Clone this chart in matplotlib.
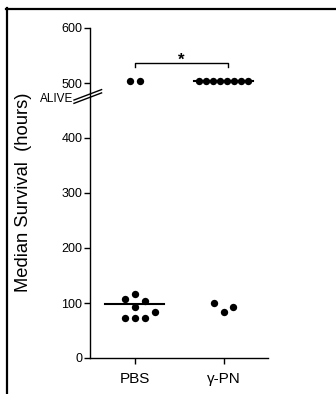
import matplotlib
matplotlib.use("Agg")
import matplotlib.pyplot as plt
import numpy as np
from matplotlib.lines import Line2D

plt.rcParams['font.family'] = ['Liberation Sans', 'DejaVu Sans']

# data (hours); survivors plotted at the "ALIVE" level
groups = ["PBS", "γ-PN"]
pbs_dead = [117, 107, 104, 92, 84, 72, 72, 72]
pn_dead = [100, 92, 84]
alive_value = 504
pbs_alive_n = 2
pn_alive_n = 8
y_ticks = [0, 100, 200, 300, 400, 500, 600]

W, H = 336, 394
fig = plt.figure(figsize=(W / 100, H / 100), dpi=100)
ax = fig.add_axes([90 / W, 1 - 358 / H, 178 / W, 330 / H])
ax.set_xlim(0.5, 2.5)
ax.set_ylim(0, 600)

# px per data unit, used for the dot swarm spacing
px_x = 89.0
px_y = 330 / 600


def swarm(values, gap=10):
    # simple greedy beeswarm, gap in pixels
    placed = []
    out = {}
    order = np.argsort(values, kind="stable")
    for i in order:
        v = values[i]
        k = 0
        while True:
            cands = [0] if k == 0 else [k, -k]
            ok = None
            for c in cands:
                xo = c * gap
                if all(np.hypot(xo - px, (v - pv) * px_y) >= gap - 0.01 for px, pv in placed):
                    ok = xo
                    break
            if ok is not None:
                placed.append((ok, v))
                out[i] = ok / px_x
                break
            k += 1
    return np.array([out[i] for i in range(len(values))])


def row(n, gap):
    return (np.arange(n) - (n - 1) / 2) * gap / px_x


dot = dict(s=28, color="black", zorder=3, linewidths=0)

# dead animals
ax.scatter(1 + swarm(pbs_dead), pbs_dead, **dot)
ax.scatter(2 + swarm(pn_dead), pn_dead, **dot)
# alive animals
ax.scatter(1 + row(pbs_alive_n, 10), [alive_value] * pbs_alive_n, **dot)
ax.scatter(2 + row(pn_alive_n, 7.1), [alive_value] * pn_alive_n, **dot)

# medians
all_pbs = pbs_dead + [alive_value] * pbs_alive_n
all_pn = pn_dead + [alive_value] * pn_alive_n
for xi, vals in zip([1, 2], [all_pbs, all_pn]):
    ax.plot([xi - 0.33, xi + 0.33], [np.median(vals)] * 2, color="black", lw=1.5, zorder=2)

# significance bracket
ax.plot([1.0, 1.0, 2.05, 2.05], [529, 536, 536, 529], color="black", lw=1, clip_on=False)
ax.text(1.52, 527, "*", ha="center", va="bottom", fontsize=12, fontweight="bold")

# axes style
for s in ["top", "right"]:
    ax.spines[s].set_visible(False)
for s in ["left", "bottom"]:
    ax.spines[s].set_linewidth(1.0)
ax.set_yticks(y_ticks)
ax.set_xticks([1, 2])
ax.set_xticklabels(groups, fontsize=11)
ax.tick_params(axis="y", labelsize=9, length=4, width=1, pad=1.5)
ax.tick_params(axis="x", length=4, width=1, pad=6)
fig.text(24 / W, 1 - 192 / H, "Median Survival  (hours)", rotation=90,
         ha="center", va="center", fontsize=13.2)

# axis break marks and ALIVE label
for dy in [0, 6]:
    ax.plot([0.32, 0.63], [463 + dy, 482 + dy], color="black", lw=1, clip_on=False)
ax.text(0.31, 470, "ALIVE", ha="right", va="center", fontsize=8.5)

# frame lines at top and left of the picture
fig.add_artist(Line2D([6.5 / W, 6.5 / W], [0, 1 - 8 / H], color="black", lw=1.6))
fig.add_artist(Line2D([6 / W, 1], [1 - 9 / H, 1 - 9 / H], color="black", lw=1.6))

fig.savefig("out.png", dpi=100)
